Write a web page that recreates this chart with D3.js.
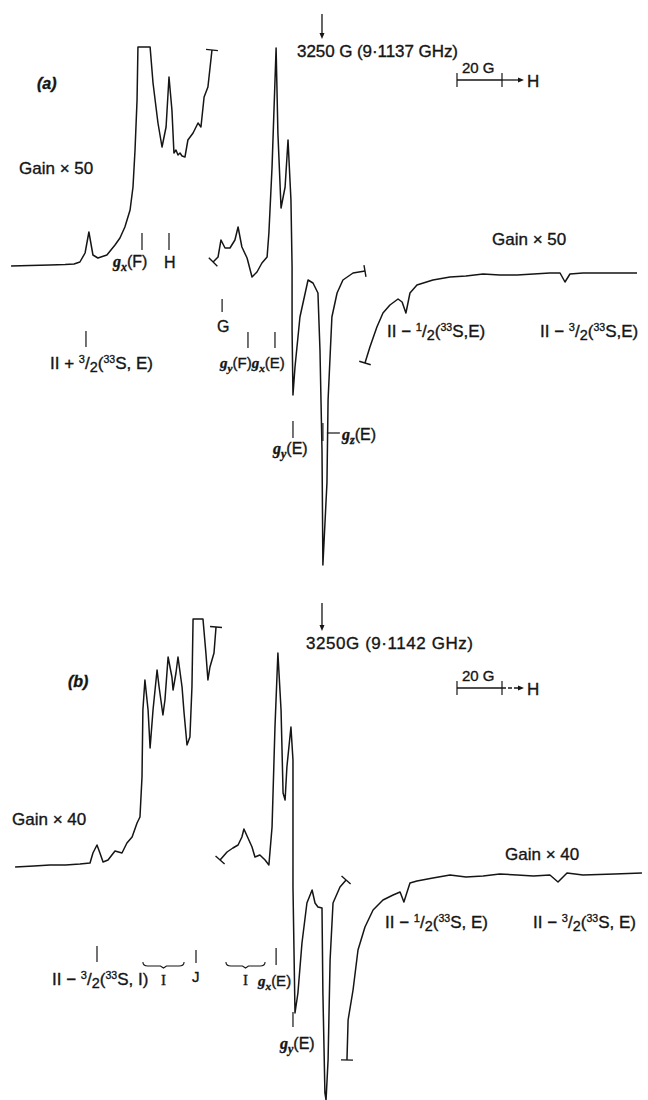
<!DOCTYPE html>
<html lang="en">
<head>
<meta charset="UTF-8">
<title>ESR spectra (a) and (b)</title>
<style>
  body { margin: 0; background: #fff; }
  svg text { font-family: "Liberation Sans", Arial, sans-serif; fill: #151515; stroke: #151515; stroke-width: 0.35px; }
</style>
</head>
<body>
<script src="https://d3js.org/d3.v7.min.js"></script>
<script>
// Traces: [field offset from 3250 G (G), signal (arb. units)]
// spectrum (a), 9.1137 GHz
const traceA1 = [[-138.2,0],[-129.8,0.5],[-120.9,1],[-114.2,1.5],[-110.2,2],[-107.6,4],[-105.3,13],[-103.6,34],[-101.8,11],[-99.6,8],[-95.6,11],[-92,21],[-89.8,28],[-87.6,39],[-85.3,56],[-84,79],[-83.1,116],[-82.2,166],[-81.8,219],[-76.4,219],[-75.1,183],[-72.9,143],[-71.1,119],[-69.3,139],[-68,189],[-66.7,156],[-65.8,113],[-64.9,116],[-64,111],[-63.1,113],[-62.2,110],[-60.9,109],[-59.6,126],[-57.3,133],[-55.1,143],[-53.8,139],[-52.4,169],[-50.7,179],[-48.9,216]];
const traceA2 = [[-48.4,4],[-46.2,9],[-44.9,26],[-43.1,18],[-40.9,18],[-38.7,26],[-37.3,39],[-35.6,19],[-33.3,8],[-31.1,-11],[-28.9,-6],[-26.7,3],[-24.4,9],[-23.6,33],[-22.2,99],[-20.4,218],[-19.6,133],[-18.2,58],[-16.4,79],[-15.1,126],[-13.8,66],[-13.3,-1],[-13.3,-64],[-12.9,-129],[-12,-101],[-9.8,-51],[-6.2,-14],[-4,-17],[-1.8,-27],[-0.9,-84],[0,-184],[0.4,-299],[2.2,-217],[2.7,-134],[4.4,-51],[6.7,-27],[9.3,-14],[13.8,-7],[19.1,-5]];
const traceA3 = [[19.1,-97],[21.3,-81],[24.4,-61],[27.1,-47],[30.2,-39],[33.8,-33],[35.6,-36],[37.3,-47],[39.1,-27],[42.2,-19],[49.3,-14],[56.9,-11],[64,-10],[71.6,-8],[79,-9],[86.7,-9],[94,-8],[101.3,-7],[105.8,-7],[108,-16],[110.2,-8],[116,-7],[128,-7],[140,-7]];

// spectrum (b), 9.1142 GHz
const traceB1 = [[-136.4,-1],[-128,0],[-120.9,1],[-114,1],[-107.6,2],[-103.1,3],[-101.8,13],[-100,21],[-98.7,13],[-97.3,4],[-95.1,6],[-92,15],[-88.9,13],[-86.7,23],[-84.4,29],[-82.2,43],[-80.9,49],[-80,89],[-79.6,156],[-78.7,186],[-77.3,156],[-76.4,118],[-75.1,156],[-73.3,196],[-72.4,179],[-70.7,151],[-69.8,166],[-68.4,209],[-66.7,189],[-66.2,176],[-64.9,193],[-64,209],[-62.2,179],[-61.3,153],[-60,121],[-58.7,129],[-57.8,179],[-57.3,247],[-52.9,247],[-51.6,213],[-50.7,186],[-49.8,199],[-48,213],[-47.1,239]];
const traceB2 = [[-45.3,6],[-42.2,14],[-39.6,18],[-37.3,21],[-35.6,29],[-34.7,37],[-32.9,28],[-31.1,19],[-29.8,9],[-27.6,11],[-25.3,6],[-23.6,1],[-22.2,39],[-20.9,139],[-19.6,213],[-18.2,156],[-17.3,73],[-16.4,66],[-15.6,99],[-13.8,139],[-12.9,106],[-12.9,-21],[-12,-147],[-10.7,-127],[-8.9,-77],[-6.7,-37],[-4.4,-24],[-3.1,-37],[-1.8,-41],[0,-42],[0.4,-127],[1.3,-227],[1.8,-234],[2.7,-194],[3.6,-94],[4.9,-37],[8,-21],[10.7,-14]];
const traceB3 = [[11.1,-194],[11.6,-154],[13.8,-124],[16,-84],[19.1,-61],[22.7,-44],[27.1,-34],[31.6,-29],[34.7,-26],[36.4,-36],[39.1,-17],[42.2,-15],[49.3,-12],[56.9,-9],[64,-11],[71.6,-10],[79,-8],[86.7,-9],[94,-10],[101.3,-9],[104.9,-16],[108.9,-7],[116,-9],[130,-8],[142.2,-7]];

// marker fields (G from 3250) for the assignment ticks
const marksA = [-80, -68, -44.4, -104.9, -32.9, -20.9, -12.9, 0.4]; // gx(F), H, G, II+3/2, gy(F), gx(E), gy(E), gz(E)
const marksB = [-100, -56, -20.4, -12.9];                           // II-3/2(S,I), J, gx(E), gy(E)
const bracketsB = [[-79.6, -61.3], [-42.7, -25.3]];                 // the two "I" groups
const scaleBar = [60, 80];                                          // 20 G
const centreField = 3250;

const W = 648, H = 1100;
const svg = d3.select("body").append("svg").attr("width", W).attr("height", H);

const x = d3.scaleLinear().domain([-143.11, 144.89]).range([0, W]);
const yA = d3.scaleLinear().domain([-300, 250]).range([566, 16]);
const yB = d3.scaleLinear().domain([-240, 250]).range([1106, 616]);

const ink = "#151515";

function trace(g, pts, ys, capStart, capEnd) {
    const line = d3.line().x(d => x(d[0])).y(d => ys(d[1]));
    g.append("path").attr("d", line(pts)).attr("fill", "none")
        .attr("stroke", ink).attr("stroke-width", 1.5).attr("stroke-linejoin", "round");
    // little end bars where the pen trace was broken
    function cap(p, q) {
        const px = x(p[0]), py = ys(p[1]), qx = x(q[0]), qy = ys(q[1]);
        const len = Math.hypot(px - qx, py - qy) || 1;
        const nx = -(py - qy) / len, ny = (px - qx) / len;
        g.append("line").attr("x1", px - nx * 6).attr("y1", py - ny * 6)
            .attr("x2", px + nx * 6).attr("y2", py + ny * 6)
            .attr("stroke", ink).attr("stroke-width", 1.4);
    }
    if (capStart) cap(pts[0], pts[1]);
    if (capEnd) cap(pts[pts.length - 1], pts[pts.length - 2]);
}

function tick(g, px, y1, y2) {
    g.append("line").attr("x1", px).attr("x2", px).attr("y1", y1).attr("y2", y2)
        .attr("stroke", ink).attr("stroke-width", 1.2);
}

// text with italic g, subscripts, superscripts and fractions
function rich(g, px, py, parts, size) {
    const t = g.append("text").attr("x", px).attr("y", py).style("font-size", size + "px");
    let shift = 0;
    parts.forEach(([s, k]) => {
        const sp = t.append("tspan").text(s);
        let target = 0, fs = size;
        if (k === "g") sp.style("font-style", "italic").style("font-weight", "bold")
            .style("font-family", "'Liberation Serif', serif");
        if (k === "sub") { target = 4; fs = size * 0.75; sp.style("font-style", "italic").style("font-weight", "bold").style("font-family", "'Liberation Serif', serif"); }
        if (k === "sup") { target = -6; fs = size * 0.62; }
        if (k === "fn") { target = -6; fs = size * 0.65; }
        if (k === "fd") { target = 3; fs = size * 0.85; }
        sp.style("font-size", fs + "px");
        if (target !== shift) { sp.attr("dy", target - shift); shift = target; }
    });
    return t;
}

function label(g, px, py, s, size, style) {
    const t = g.append("text").attr("x", px).attr("y", py).style("font-size", size + "px").text(s);
    if (style) t.style("font-style", "italic").style("font-weight", "bold");
    return t;
}

function downArrow(g, px, y1, y2) {
    g.append("line").attr("x1", px).attr("x2", px).attr("y1", y1).attr("y2", y2 - 4)
        .attr("stroke", ink).attr("stroke-width", 1.3);
    g.append("path").attr("d", `M${px - 2.5},${y2 - 6}L${px + 2.5},${y2 - 6}L${px},${y2}Z`).attr("fill", ink);
}

function bar(g, yy, dashed) {
    const a = x(scaleBar[0]), b = x(scaleBar[1]), e = b + 22;
    tick(g, a, yy - 7, yy + 7);
    tick(g, b, yy - 7, yy + 7);
    g.append("line").attr("x1", a).attr("x2", b).attr("y1", yy).attr("y2", yy)
        .attr("stroke", ink).attr("stroke-width", 1.3);
    g.append("line").attr("x1", b).attr("x2", e - 4).attr("y1", yy).attr("y2", yy)
        .attr("stroke", ink).attr("stroke-width", 1.3).attr("stroke-dasharray", dashed ? "4,2" : null);
    g.append("path").attr("d", `M${e - 6},${yy - 2.5}L${e},${yy}L${e - 6},${yy + 2.5}Z`).attr("fill", ink);
    label(g, a + 5, yy - 7, "20 G", 15);
    label(g, e + 3, yy + 7, "H", 17);
}

// ---------- spectrum (a)
const gA = svg.append("g");
trace(gA, traceA1, yA, false, true);
trace(gA, traceA2, yA, true, true);
trace(gA, traceA3, yA, true, false);

downArrow(gA, x(0), 14, 39);
label(gA, x(0) - 25, 57, `${centreField} G (9·1137 GHz)`, 17).attr("textLength", 161);
bar(gA, 80, false);
label(gA, 37, 89, "(a)", 16, true);
label(gA, 19, 174, "Gain × 50", 17);
label(gA, 492, 245, "Gain × 50", 17);

tick(gA, x(marksA[0]), 233, 250);
rich(gA, 113, 267, [["g", "g"], ["x", "sub"], ["(F)", "n"]], 16);
tick(gA, x(marksA[1]), 233, 250);
label(gA, x(marksA[1]) - 5, 268, "H", 16);
tick(gA, x(marksA[2]), 299, 312);
label(gA, x(marksA[2]) - 5, 332, "G", 16);
tick(gA, x(marksA[3]), 331, 347);
rich(gA, 50, 369, [["II + ", "n"], ["3", "fn"], ["/", "n"], ["2", "fd"], ["(", "n"], ["33", "sup"], ["S, E)", "n"]], 17);
tick(gA, x(marksA[4]), 332, 348);
tick(gA, x(marksA[5]), 332, 348);
rich(gA, 220, 368, [["g", "g"], ["y", "sub"], ["(F)", "n"], ["g", "g"], ["x", "sub"], ["(E)", "n"]], 15);
tick(gA, x(marksA[6]), 421, 438);
rich(gA, 273, 454, [["g", "g"], ["y", "sub"], ["(E)", "n"]], 16);
tick(gA, x(marksA[7]), 423, 441);
gA.append("line").attr("x1", x(marksA[7]) + 4).attr("x2", x(marksA[7]) + 17).attr("y1", 433).attr("y2", 433)
    .attr("stroke", ink).attr("stroke-width", 1.2);
rich(gA, 342, 440, [["g", "g"], ["z", "sub"], ["(E)", "n"]], 16);
rich(gA, 387, 337, [["II − ", "n"], ["1", "fn"], ["/", "n"], ["2", "fd"], ["(", "n"], ["33", "sup"], ["S,E)", "n"]], 17);
rich(gA, 540, 337, [["II − ", "n"], ["3", "fn"], ["/", "n"], ["2", "fd"], ["(", "n"], ["33", "sup"], ["S,E)", "n"]], 17);

// ---------- spectrum (b)
const gB = svg.append("g");
trace(gB, traceB1, yB, false, true);
trace(gB, traceB2, yB, true, true);
trace(gB, traceB3, yB, true, false);

downArrow(gB, x(0), 603, 631);
label(gB, x(0) - 16, 649, `${centreField}G (9·1142 GHz)`, 17).attr("textLength", 167);
bar(gB, 688, true);
label(gB, 68, 687, "(b)", 16, true);
label(gB, 12, 825, "Gain × 40", 17);
label(gB, 505, 860, "Gain × 40", 17);

tick(gB, x(marksB[0]), 946, 962);
rich(gB, 52, 985, [["II − ", "n"], ["3", "fn"], ["/", "n"], ["2", "fd"], ["(", "n"], ["33", "sup"], ["S, I)", "n"]], 17);
bracketsB.forEach(([f1, f2]) => {
    const a = x(f1), b = x(f2), m = (a + b) / 2, yy = 966;
    gB.append("path").attr("d", `M${a},${yy - 4}Q${a},${yy} ${a + 5},${yy}L${m - 3},${yy}L${m},${yy + 2}L${m + 3},${yy}L${b - 5},${yy}Q${b},${yy} ${b},${yy - 4}`)
        .attr("fill", "none").attr("stroke", ink).attr("stroke-width", 1.1);
    label(gB, m, 985, "I", 15).attr("text-anchor", "middle").style("font-family", "'Liberation Serif', serif");
});
tick(gB, x(marksB[1]), 950, 963);
label(gB, x(marksB[1]) - 4, 982, "J", 15);
tick(gB, x(marksB[2]), 948, 965);
rich(gB, 258, 986, [["g", "g"], ["x", "sub"], ["(E)", "n"]], 15);
tick(gB, x(marksB[3]), 1012, 1027);
rich(gB, 280, 1049, [["g", "g"], ["y", "sub"], ["(E)", "n"]], 16);
rich(gB, 385, 928, [["II − ", "n"], ["1", "fn"], ["/", "n"], ["2", "fd"], ["(", "n"], ["33", "sup"], ["S, E)", "n"]], 17);
rich(gB, 533, 928, [["II − ", "n"], ["3", "fn"], ["/", "n"], ["2", "fd"], ["(", "n"], ["33", "sup"], ["S, E)", "n"]], 17);
</script>
</body>
</html>
